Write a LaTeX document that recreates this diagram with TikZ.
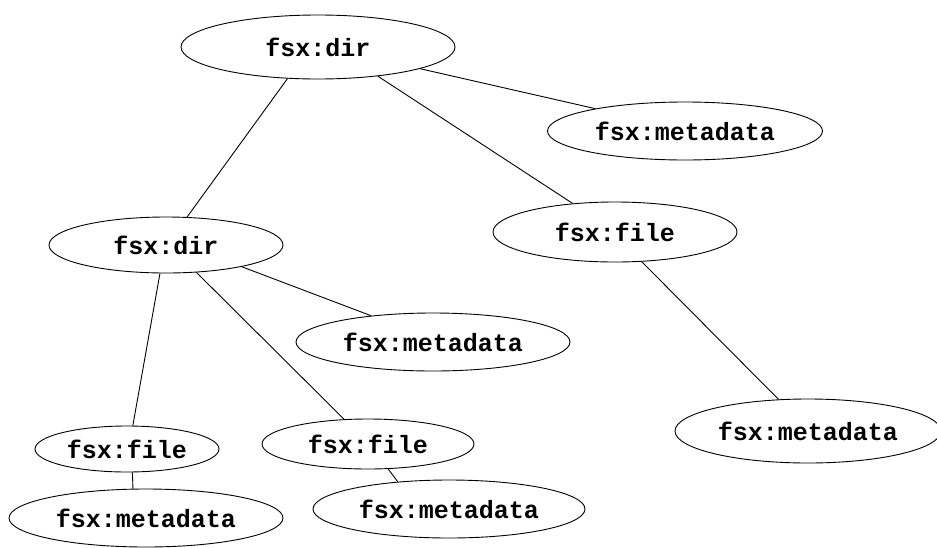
\documentclass[tikz,border=0pt]{standalone}
\usepackage{fontspec}
\setmonofont{Liberation Mono}
\usetikzlibrary{shapes.geometric}

\begin{document}
\begin{tikzpicture}[x=1pt,y=-1pt]
\tikzset{
  fsxnode/.style={ellipse,draw,line width=0.9pt,inner sep=0pt,
    font=\fontsize{25}{30}\selectfont\ttfamily\bfseries},
  link/.style={line width=0.9pt}
}
\useasboundingbox (0,0) rectangle (937,547);
\node[fsxnode,minimum width=274,minimum height=64] (n_dir0) at (318,47) {fsx:dir};
\node[fsxnode,minimum width=275,minimum height=58] (n_meta0) at (685,131) {fsx:metadata};
\node[fsxnode,minimum width=244,minimum height=60] (n_file0) at (615,232) {fsx:file};
\node[fsxnode,minimum width=266,minimum height=64] (n_meta1) at (808,431) {fsx:metadata};
\node[fsxnode,minimum width=234,minimum height=56] (n_dir1) at (166,245) {fsx:dir};
\node[fsxnode,minimum width=274,minimum height=58] (n_meta2) at (433,342) {fsx:metadata};
\node[fsxnode,minimum width=184,minimum height=46] (n_file1) at (127,449) {fsx:file};
\node[fsxnode,minimum width=212,minimum height=50] (n_file2) at (368,444) {fsx:file};
\node[fsxnode,minimum width=274,minimum height=58] (n_meta3) at (146,518) {fsx:metadata};
\node[fsxnode,minimum width=272,minimum height=58] (n_meta4) at (449,509) {fsx:metadata};
\draw[link] (n_dir0.-134) -- (n_dir1.53);
\draw[link] (n_dir0.-12) -- (n_meta0.166);
\draw[link] (n_dir0.-26) -- (n_file0.146);
\draw[link] (n_file0.-48) -- (n_meta1.133);
\draw[link] (n_dir1.-16) -- (n_meta2.157);
\draw[link] (n_dir1.-42) -- (n_file2.134);
\draw[link] (n_dir1.-102) -- (n_file1.76);
\draw[link] (n_file1.-77) -- (n_meta3.114);
\draw[link] (n_file2.-51) -- (n_meta4.152);
\end{tikzpicture}
\end{document}
